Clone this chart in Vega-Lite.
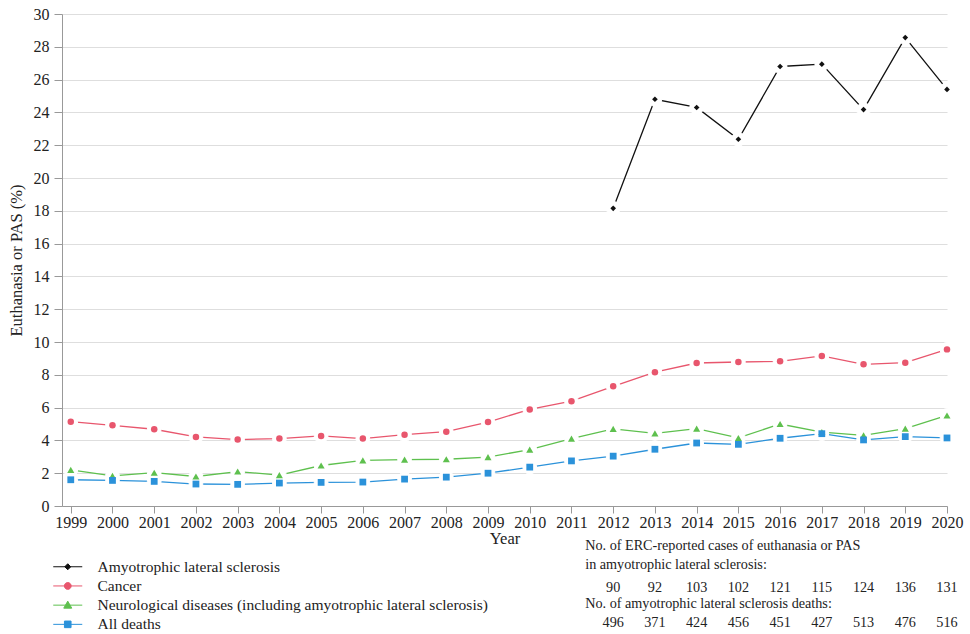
{
  "$schema": "https://vega.github.io/schema/vega-lite/v6.json",
  "padding": {"left": 8, "top": 6, "right": 5, "bottom": 0},
  "background": "white",
  "config": {
    "font": "Liberation Serif",
    "view": {"stroke": null},
    "axis": {"labelFont": "Liberation Serif", "titleFont": "Liberation Serif", "labelColor": "#222", "titleColor": "#222", "labelFontSize": 16, "titleFontSize": 16.5, "titleFontWeight": "normal", "domainColor": "#999", "tickColor": "#999"},
    "legend": {"labelFont": "Liberation Serif", "labelFontSize": 15.5, "labelColor": "#222"}
  },
  "datasets": {
    "rates": [
      {"year": 2012, "series": "Amyotrophic lateral sclerosis", "value": 18.15},
      {"year": 2013, "series": "Amyotrophic lateral sclerosis", "value": 24.8},
      {"year": 2014, "series": "Amyotrophic lateral sclerosis", "value": 24.3},
      {"year": 2015, "series": "Amyotrophic lateral sclerosis", "value": 22.36},
      {"year": 2016, "series": "Amyotrophic lateral sclerosis", "value": 26.8},
      {"year": 2017, "series": "Amyotrophic lateral sclerosis", "value": 26.94},
      {"year": 2018, "series": "Amyotrophic lateral sclerosis", "value": 24.17},
      {"year": 2019, "series": "Amyotrophic lateral sclerosis", "value": 28.56},
      {"year": 2020, "series": "Amyotrophic lateral sclerosis", "value": 25.4},
      {"year": 1999, "series": "Cancer", "value": 5.14},
      {"year": 2000, "series": "Cancer", "value": 4.92},
      {"year": 2001, "series": "Cancer", "value": 4.68},
      {"year": 2002, "series": "Cancer", "value": 4.21},
      {"year": 2003, "series": "Cancer", "value": 4.05},
      {"year": 2004, "series": "Cancer", "value": 4.11},
      {"year": 2005, "series": "Cancer", "value": 4.27},
      {"year": 2006, "series": "Cancer", "value": 4.11},
      {"year": 2007, "series": "Cancer", "value": 4.35},
      {"year": 2008, "series": "Cancer", "value": 4.53},
      {"year": 2009, "series": "Cancer", "value": 5.12},
      {"year": 2010, "series": "Cancer", "value": 5.89},
      {"year": 2011, "series": "Cancer", "value": 6.39},
      {"year": 2012, "series": "Cancer", "value": 7.3},
      {"year": 2013, "series": "Cancer", "value": 8.16},
      {"year": 2014, "series": "Cancer", "value": 8.72},
      {"year": 2015, "series": "Cancer", "value": 8.78},
      {"year": 2016, "series": "Cancer", "value": 8.82},
      {"year": 2017, "series": "Cancer", "value": 9.15},
      {"year": 2018, "series": "Cancer", "value": 8.64},
      {"year": 2019, "series": "Cancer", "value": 8.74},
      {"year": 2020, "series": "Cancer", "value": 9.55},
      {"year": 1999, "series": "Neurological diseases (including amyotrophic lateral sclerosis)", "value": 2.2},
      {"year": 2000, "series": "Neurological diseases (including amyotrophic lateral sclerosis)", "value": 1.84},
      {"year": 2001, "series": "Neurological diseases (including amyotrophic lateral sclerosis)", "value": 2.03},
      {"year": 2002, "series": "Neurological diseases (including amyotrophic lateral sclerosis)", "value": 1.8},
      {"year": 2003, "series": "Neurological diseases (including amyotrophic lateral sclerosis)", "value": 2.1},
      {"year": 2004, "series": "Neurological diseases (including amyotrophic lateral sclerosis)", "value": 1.88},
      {"year": 2005, "series": "Neurological diseases (including amyotrophic lateral sclerosis)", "value": 2.47},
      {"year": 2006, "series": "Neurological diseases (including amyotrophic lateral sclerosis)", "value": 2.78},
      {"year": 2007, "series": "Neurological diseases (including amyotrophic lateral sclerosis)", "value": 2.83},
      {"year": 2008, "series": "Neurological diseases (including amyotrophic lateral sclerosis)", "value": 2.85},
      {"year": 2009, "series": "Neurological diseases (including amyotrophic lateral sclerosis)", "value": 2.98},
      {"year": 2010, "series": "Neurological diseases (including amyotrophic lateral sclerosis)", "value": 3.44},
      {"year": 2011, "series": "Neurological diseases (including amyotrophic lateral sclerosis)", "value": 4.11},
      {"year": 2012, "series": "Neurological diseases (including amyotrophic lateral sclerosis)", "value": 4.7},
      {"year": 2013, "series": "Neurological diseases (including amyotrophic lateral sclerosis)", "value": 4.43},
      {"year": 2014, "series": "Neurological diseases (including amyotrophic lateral sclerosis)", "value": 4.72},
      {"year": 2015, "series": "Neurological diseases (including amyotrophic lateral sclerosis)", "value": 4.15},
      {"year": 2016, "series": "Neurological diseases (including amyotrophic lateral sclerosis)", "value": 5.0},
      {"year": 2017, "series": "Neurological diseases (including amyotrophic lateral sclerosis)", "value": 4.51},
      {"year": 2018, "series": "Neurological diseases (including amyotrophic lateral sclerosis)", "value": 4.31},
      {"year": 2019, "series": "Neurological diseases (including amyotrophic lateral sclerosis)", "value": 4.72},
      {"year": 2020, "series": "Neurological diseases (including amyotrophic lateral sclerosis)", "value": 5.52},
      {"year": 1999, "series": "All deaths", "value": 1.6},
      {"year": 2000, "series": "All deaths", "value": 1.56},
      {"year": 2001, "series": "All deaths", "value": 1.5},
      {"year": 2002, "series": "All deaths", "value": 1.34},
      {"year": 2003, "series": "All deaths", "value": 1.32},
      {"year": 2004, "series": "All deaths", "value": 1.4},
      {"year": 2005, "series": "All deaths", "value": 1.44},
      {"year": 2006, "series": "All deaths", "value": 1.46},
      {"year": 2007, "series": "All deaths", "value": 1.64},
      {"year": 2008, "series": "All deaths", "value": 1.76},
      {"year": 2009, "series": "All deaths", "value": 2.0},
      {"year": 2010, "series": "All deaths", "value": 2.37},
      {"year": 2011, "series": "All deaths", "value": 2.75},
      {"year": 2012, "series": "All deaths", "value": 3.04},
      {"year": 2013, "series": "All deaths", "value": 3.46},
      {"year": 2014, "series": "All deaths", "value": 3.84},
      {"year": 2015, "series": "All deaths", "value": 3.76},
      {"year": 2016, "series": "All deaths", "value": 4.13},
      {"year": 2017, "series": "All deaths", "value": 4.41},
      {"year": 2018, "series": "All deaths", "value": 4.03},
      {"year": 2019, "series": "All deaths", "value": 4.23},
      {"year": 2020, "series": "All deaths", "value": 4.15}
    ],
    "table": [
      {"row": "cases", "year": 2012, "label": "90"},
      {"row": "cases", "year": 2013, "label": "92"},
      {"row": "cases", "year": 2014, "label": "103"},
      {"row": "cases", "year": 2015, "label": "102"},
      {"row": "cases", "year": 2016, "label": "121"},
      {"row": "cases", "year": 2017, "label": "115"},
      {"row": "cases", "year": 2018, "label": "124"},
      {"row": "cases", "year": 2019, "label": "136"},
      {"row": "cases", "year": 2020, "label": "131"},
      {"row": "deaths", "year": 2012, "label": "496"},
      {"row": "deaths", "year": 2013, "label": "371"},
      {"row": "deaths", "year": 2014, "label": "424"},
      {"row": "deaths", "year": 2015, "label": "456"},
      {"row": "deaths", "year": 2016, "label": "451"},
      {"row": "deaths", "year": 2017, "label": "427"},
      {"row": "deaths", "year": 2018, "label": "513"},
      {"row": "deaths", "year": 2019, "label": "476"},
      {"row": "deaths", "year": 2020, "label": "516"}
    ],
    "headers": [
      {"row": "h1", "label": "No. of ERC-reported cases of euthanasia or PAS"},
      {"row": "h2", "label": " in amyotrophic lateral sclerosis:"},
      {"row": "h3", "label": "No. of amyotrophic lateral sclerosis deaths:"}
    ]
  },
  "vconcat": [
    {
      "width": 885,
      "height": 492,
      "data": {"name": "rates"},
      "encoding": {
        "x": {"field": "year", "type": "quantitative", "title": "Year",
          "scale": {"domain": [1998.79, 2020], "nice": false, "zero": false},
          "axis": {"values": [1999,2000,2001,2002,2003,2004,2005,2006,2007,2008,2009,2010,2011,2012,2013,2014,2015,2016,2017,2018,2019,2020], "format": "d", "grid": false, "labelOverlap": false, "labelFlush": false, "tickSize": 7, "labelPadding": 1, "titlePadding": 0}},
        "y": {"field": "value", "type": "quantitative", "title": "Euthanasia or PAS (%)",
          "scale": {"domain": [0, 30], "nice": false},
          "axis": {"values": [0,2,4,6,8,10,12,14,16,18,20,22,24,26,28,30], "labelOverlap": false, "gridColor": "#dedede", "gridWidth": 1.2, "tickSize": 8, "labelPadding": 5, "titlePadding": 9}}
      },
      "layer": [
        {
          "mark": {"type": "line", "strokeWidth": 1.3},
          "encoding": {
            "color": {"field": "series", "type": "nominal",
              "scale": {"domain": ["Amyotrophic lateral sclerosis", "Cancer", "Neurological diseases (including amyotrophic lateral sclerosis)", "All deaths"], "range": ["#111111", "#e8566d", "#5ec04e", "#2b92da"]},
              "legend": {
                "orient": "none", "legendX": -2, "legendY": 545, "title": null,
                "symbolSize": 100, "labelOffset": 22, "rowPadding": 2.2, "labelLimit": 600,
                "labelFont": "Liberation Serif", "labelFontSize": 15.5,
                "encoding": {
                  "symbols": {
                    "shape": {"value": {"expr": "datum.value === 'Amyotrophic lateral sclerosis' ? 'M-2.9,0L2.9,0M0,-0.6L0.6,0L0,0.6L-0.6,0Z' : datum.value === 'Cancer' ? 'M-2.9,0L2.9,0M-0.68,0A0.68,0.68,0,1,0,0.68,0A0.68,0.68,0,1,0,-0.68,0Z' : datum.value === 'All deaths' ? 'M-2.9,0L2.9,0M-0.66,-0.66L0.66,-0.66L0.66,0.66L-0.66,0.66Z' : 'M-2.9,0L2.9,0M0,-0.8L0.8,0.6L-0.8,0.6Z'"}},
                    "stroke": {"value": {"expr": "scale('color', datum.value)"}},
                    "fill": {"value": {"expr": "scale('color', datum.value)"}},
                    "strokeWidth": {"value": 1},
                    "size": {"value": 100},
                    "opacity": {"value": 1}
                  }
                }
              }}
          }
        },
        {
          "mark": {"type": "point", "shape": "circle", "filled": true, "opacity": 1},
          "encoding": {
            "fill": {"value": "#ffffff"},
            "stroke": {"value": "#ffffff"},
            "strokeWidth": {"value": 1},
            "size": {"value": 190}
          }
        },
        {
          "transform": [{"filter": "datum.series === 'Amyotrophic lateral sclerosis'"}],
          "mark": {"type": "point", "shape": "diamond", "filled": true, "opacity": 1, "size": 32},
          "encoding": {"color": {"field": "series", "type": "nominal"}}
        },
        {
          "transform": [{"filter": "datum.series === 'Cancer'"}],
          "mark": {"type": "point", "shape": "circle", "filled": true, "opacity": 1, "size": 42},
          "encoding": {"color": {"field": "series", "type": "nominal"}}
        },
        {
          "transform": [{"filter": "datum.series === 'Neurological diseases (including amyotrophic lateral sclerosis)'"}],
          "mark": {"type": "point", "shape": "triangle-up", "filled": true, "opacity": 1, "size": 50},
          "encoding": {"color": {"field": "series", "type": "nominal"}}
        },
        {
          "transform": [{"filter": "datum.series === 'All deaths'"}],
          "mark": {"type": "point", "shape": "square", "filled": true, "opacity": 1, "size": 46},
          "encoding": {"color": {"field": "series", "type": "nominal"}}
        }
      ]
    },
    {
      "width": 885,
      "height": 84.7,
      "layer": [
        {
          "data": {"name": "headers"},
          "mark": {"type": "text", "align": "left", "baseline": "middle", "fontSize": 14.2, "dx": -28, "color": "#222"},
          "encoding": {
            "x": {"datum": 2012, "type": "quantitative", "scale": {"domain": [1998.79, 2020], "nice": false, "zero": false}, "axis": null},
            "y": {"field": "row", "type": "ordinal", "scale": {"type": "point", "domain": ["h1","s1","s2","s3","s4","h2","s5","s6","s7","s8","s9","cases","s10","s11","s12","h3","s13","s14","s15","s16","deaths"], "padding": 1}, "axis": null},
            "text": {"field": "label"}
          }
        },
        {
          "data": {"name": "table"},
          "mark": {"type": "text", "align": "center", "baseline": "middle", "fontSize": 14.2, "color": "#222"},
          "encoding": {
            "x": {"field": "year", "type": "quantitative", "scale": {"domain": [1998.79, 2020], "nice": false, "zero": false}, "axis": null},
            "y": {"field": "row", "type": "ordinal", "scale": {"type": "point", "domain": ["h1","s1","s2","s3","s4","h2","s5","s6","s7","s8","s9","cases","s10","s11","s12","h3","s13","s14","s15","s16","deaths"], "padding": 1}, "axis": null},
            "text": {"field": "label"}
          }
        }
      ]
    }
  ],
  "spacing": 36,
  "bounds": "flush"
}
